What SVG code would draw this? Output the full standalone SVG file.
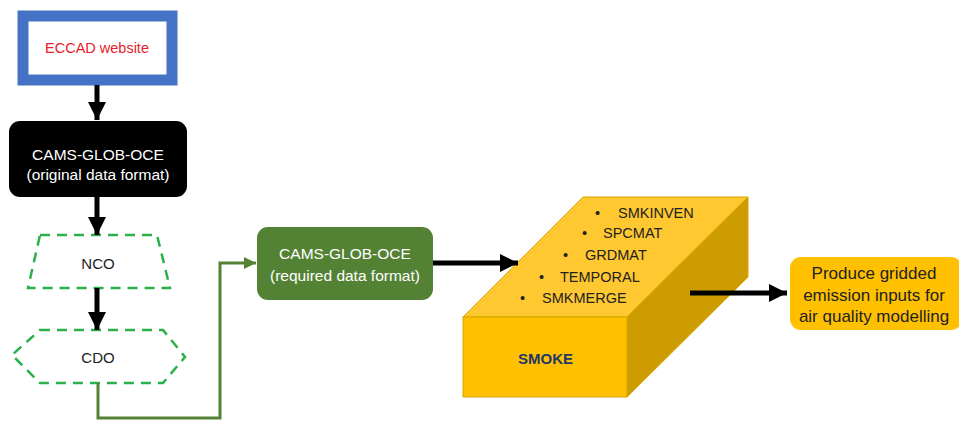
<svg xmlns="http://www.w3.org/2000/svg" width="959" height="421" viewBox="0 0 959 421">
<style>
text{font-family:"Liberation Sans",Arial,sans-serif;text-anchor:middle;dominant-baseline:central}
.w{fill:#fff;font-size:15.5px}
.dash{fill:none;stroke:#2BB04A;stroke-width:2.5;stroke-dasharray:10 7}
.blk{stroke:#000;stroke-width:5;fill:none}
.bul{fill:#222;font-size:14.5px;text-anchor:start}
.sm{fill:#1F3864;font-size:15px;font-weight:bold;text-anchor:start}
</style>
<defs>
<marker id="ah" viewBox="0 0 10 10" refX="10" refY="5" markerWidth="3.6" markerHeight="3.6" markerUnits="strokeWidth" orient="auto"><path d="M0,0L10,5L0,10z" fill="#000"/></marker>
<marker id="ahg" viewBox="0 0 10 10" refX="10" refY="5" markerWidth="4" markerHeight="4" markerUnits="strokeWidth" orient="auto"><path d="M0,0L10,5L0,10z" fill="#548235"/></marker>
</defs>
<g id="eccad">
<rect x="23" y="16" width="149" height="64" fill="#fff" stroke="#4472C4" stroke-width="11"/>
<text x="97" y="48" fill="#E8202A" font-size="14.5">ECCAD website</text>
</g>
<g id="orig">
<rect x="9" y="121" width="178" height="76" rx="11" fill="#000"/>
<text class="w" x="98" y="154">CAMS-GLOB-OCE</text>
<text class="w" x="98" y="174">(original data format)</text>
</g>
<g id="nco">
<path class="dash" d="M40,235H157L170,288H28Z"/>
<text x="98" y="263" fill="#222" font-size="15">NCO</text>
</g>
<g id="cdo">
<path class="dash" d="M40,330H163L185,357L163,383H40L12,355Z"/>
<text x="98" y="357" fill="#222" font-size="15">CDO</text>
</g>
<g id="req">
<rect x="257" y="227" width="176" height="73" rx="11" fill="#548235"/>
<text class="w" x="345" y="253">CAMS-GLOB-OCE</text>
<text class="w" x="345" y="275">(required data format)</text>
</g>
<g id="smoke">
<path d="M583,197H748L627,317H463Z" fill="#FFC830" stroke="#D9A400" stroke-width="1"/>
<path d="M627,317L748,197V277L627,397Z" fill="#CC9C00" stroke="#D9A400" stroke-width="1"/>
<rect x="463" y="317" width="164" height="80" fill="#FFC000" stroke="#D9A400" stroke-width="1"/>
<text class="bul" x="595" y="213">•</text><text class="bul" x="618" y="213">SMKINVEN</text>
<text class="bul" x="582" y="233">•</text><text class="bul" x="603" y="233">SPCMAT</text>
<text class="bul" x="563" y="255">•</text><text class="bul" x="585" y="255">GRDMAT</text>
<text class="bul" x="539" y="277">•</text><text class="bul" x="560" y="277">TEMPORAL</text>
<text class="bul" x="520" y="298">•</text><text class="bul" x="542" y="298">SMKMERGE</text>
<text class="sm" x="518" y="358">SMOKE</text>
</g>
<g id="output">
<rect x="790" y="257" width="172" height="73" rx="11" fill="#FFC000"/>
<text x="874" y="273" fill="#222" font-size="17">Produce gridded</text>
<text x="874" y="295" fill="#222" font-size="17">emission inputs for</text>
<text x="874" y="316" fill="#222" font-size="17">air quality modelling</text>
</g>
<g id="connectors">
<line class="blk" x1="97" y1="85" x2="97" y2="120" marker-end="url(#ah)"/>
<line class="blk" x1="97" y1="197" x2="97" y2="235" marker-end="url(#ah)"/>
<line class="blk" x1="97" y1="288" x2="97" y2="330" marker-end="url(#ah)"/>
<path d="M98,383V418H220V263H256" fill="none" stroke="#548235" stroke-width="3" marker-end="url(#ahg)"/>
<line class="blk" x1="433" y1="263" x2="518" y2="263" marker-end="url(#ah)"/>
<line class="blk" x1="690" y1="293" x2="787" y2="293" marker-end="url(#ah)"/>
</g>
</svg>
